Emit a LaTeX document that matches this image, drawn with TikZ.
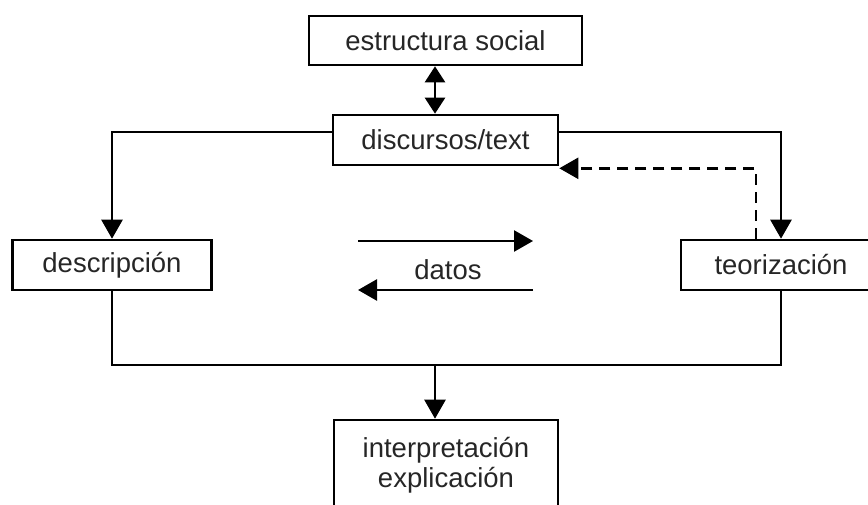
\documentclass[tikz,border=0pt]{standalone}
\usepackage{fontspec}
\setmainfont{Liberation Sans}
\usetikzlibrary{arrows.meta, positioning, calc}

\begin{document}
\begin{tikzpicture}[
    x=1pt, y=-1pt,
    font=\fontsize{27.5}{30}\selectfont,
    box/.style={draw, line width=2.6pt, align=center, inner sep=0pt, text=black!85},
    link/.style={line width=2.5pt},
    line/.style={link, -{Triangle[length=19pt, width=21pt]}},
    twoway/.style={link, {Triangle[length=16pt, width=20pt]}-{Triangle[length=16pt, width=20pt]}}
]
\useasboundingbox (0,0) rectangle (868,505);
\clip (0,0) rectangle (868,505);

\node[box, minimum width=273pt, minimum height=49pt] (soc) at (445.5,40.5) {estructura social};
\node[box, minimum width=225pt, minimum height=50pt] (disc) at (445.5,140) {discursos/text};
\node[box, minimum width=199pt, minimum height=50pt] (desc) at (112,265) {descripción};
\node[box, minimum width=200pt, minimum height=50pt] (teor) at (781,265) {teorización};
\node[box, minimum width=224pt, minimum height=90pt] (interp) at (446,465) {interpretación\\explicación};

% datos in the middle
\node[text=black!85] (datos) at (448,270) {datos};
\coordinate (fwdA) at (358,241);
\coordinate (fwdB) at (533,241);
\coordinate (backA) at (533,290);
\coordinate (backB) at (358,290);
\draw[line] (fwdA) -- (fwdB);
\draw[line] (backA) -- (backB);

\draw[twoway] ([xshift=-10.5pt]soc.south) -- ([xshift=-10.5pt]disc.north);
\draw[line] ([yshift=8pt]disc.west) -| (desc.north);
\draw[line] ([yshift=8pt]disc.east) -| (teor.north);
\draw[line, dash pattern=on 11pt off 7pt] ([xshift=-25pt]teor.north) |- ([yshift=-2pt]disc.south east);

% both branches meet and go down
\coordinate (join) at (435,365);
\draw[link] (desc.south) |- (join) -| (teor.south);
\draw[line] (join) -- (join |- interp.north);
\end{tikzpicture}
\end{document}
